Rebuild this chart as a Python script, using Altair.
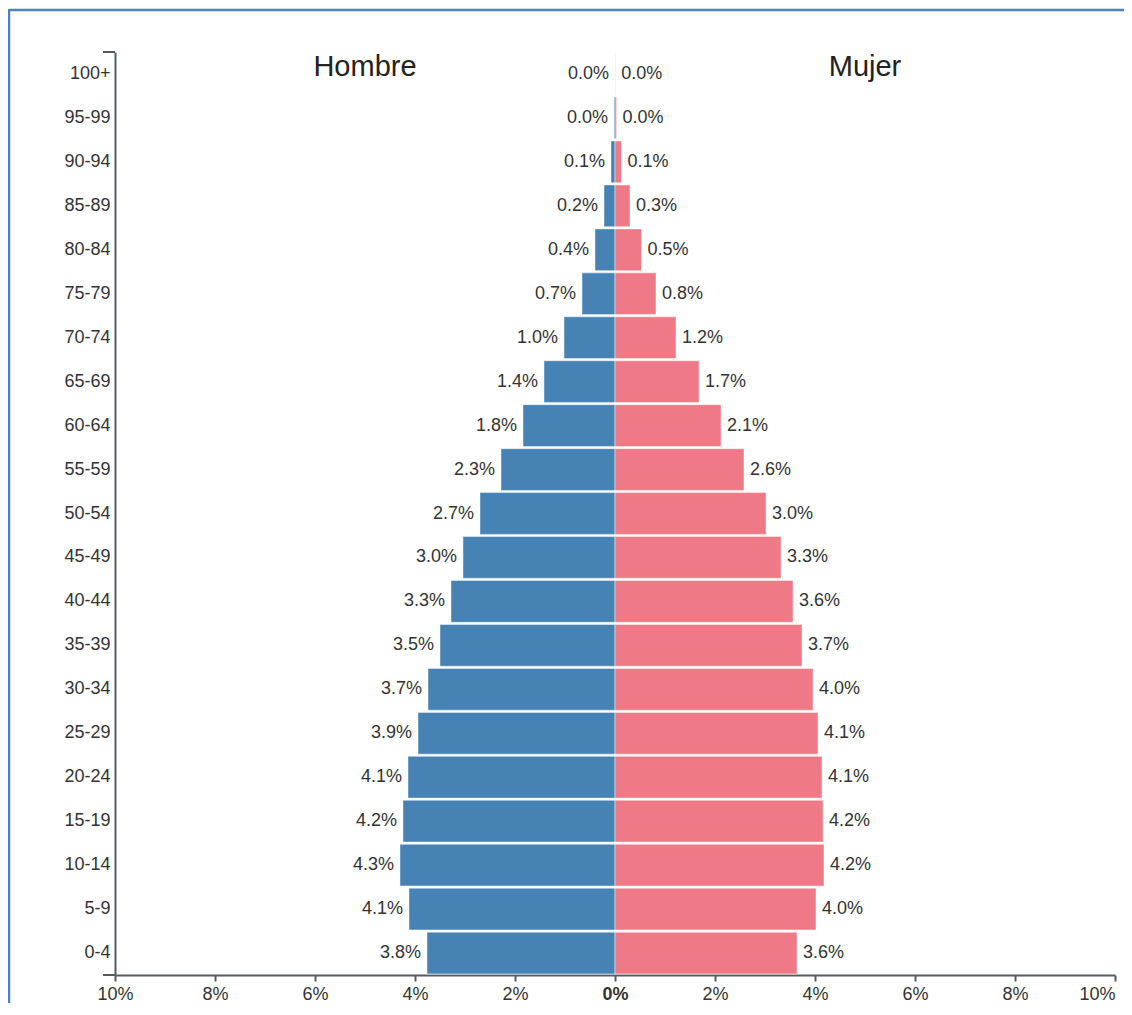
import altair as alt
import pandas as pd

# ---- data ----
ages = ["100+", "95-99", "90-94", "85-89", "80-84", "75-79", "70-74", "65-69",
        "60-64", "55-59", "50-54", "45-49", "40-44", "35-39", "30-34", "25-29",
        "20-24", "15-19", "10-14", "5-9", "0-4"]
men = [0.0, 0.02, 0.08, 0.22, 0.40, 0.66, 1.02, 1.42, 1.84, 2.28, 2.70, 3.04,
       3.28, 3.50, 3.74, 3.94, 4.14, 4.24, 4.30, 4.12, 3.76]
women = [0.004, 0.03, 0.13, 0.30, 0.53, 0.82, 1.22, 1.68, 2.12, 2.58, 3.02, 3.32,
         3.56, 3.74, 3.96, 4.06, 4.14, 4.16, 4.18, 4.02, 3.64]
x_ticks = [-10, -8, -6, -4, -2, 0, 2, 4, 6, 8, 10]
titles = ["Hombre", "Mujer"]
title_x = [-5, 5]

men_df = pd.DataFrame({"age": ages, "value": [-v for v in men],
                       "label": [f"{v:.1f}%" for v in men]})
women_df = pd.DataFrame({"age": ages, "value": women,
                         "label": [f"{v:.1f}%" for v in women]})
title_df = pd.DataFrame({"age": [ages[0]] * 2, "value": title_x, "label": titles})
one = pd.DataFrame({"k": [0]})

W, H = 1000, 923
FONT = "Liberation Sans"
AX = "#555a63"
TXT = "#333333"

yenc = alt.Y("age:N", sort=ages, title=None,
             scale=alt.Scale(paddingInner=0.05, paddingOuter=0.025),
             axis=alt.Axis(ticks=False, labelPadding=5, domainColor=AX, domainWidth=2,
                           labelFont=FONT, labelFontSize=18, labelColor=TXT))
xscale = alt.Scale(domain=[-10, 10], nice=False)
xenc = alt.X("value:Q", scale=xscale, stack=None, title=None,
             axis=alt.Axis(values=x_ticks, labelExpr="abs(datum.value) + '%'",
                           grid=False, tickSize=6, tickWidth=2, tickColor=AX,
                           domainColor=AX, domainWidth=2, labelPadding=4,
                           labelFlush=False, labelOverlap=False, labelBound=False,
                           labelAlign={"condition": {"test": "datum.value === 10", "value": "right"},
                                       "value": "center"},
                           labelFont=FONT, labelFontSize=18, labelColor=TXT,
                           labelFontWeight={"condition": {"test": "datum.value === 0", "value": "bold"},
                                            "value": "normal"}))

bars_m = alt.Chart(men_df).mark_bar(color="#4682b4", stroke="white", strokeOpacity=0.45,
                                    strokeWidth=1).encode(x=xenc, y=yenc)
bars_w = alt.Chart(women_df).mark_bar(color="#ef7986", stroke="white", strokeOpacity=0.45,
                                      strokeWidth=1).encode(x=alt.X("value:Q", scale=xscale, stack=None),
                                                            y=alt.Y("age:N", sort=ages))
lab_m = alt.Chart(men_df).mark_text(align="right", baseline="middle", dx=-6, font=FONT,
                                    fontSize=18, color=TXT).encode(
    x=alt.X("value:Q", scale=xscale), y=alt.Y("age:N", sort=ages), text="label:N")
lab_w = alt.Chart(women_df).mark_text(align="left", baseline="middle", dx=6, font=FONT,
                                      fontSize=18, color=TXT).encode(
    x=alt.X("value:Q", scale=xscale), y=alt.Y("age:N", sort=ages), text="label:N")
ttl = alt.Chart(title_df).mark_text(align="center", baseline="alphabetic", dy=2, font=FONT,
                                    fontSize=29, color="#222222").encode(
    x=alt.X("value:Q", scale=xscale), y=alt.Y("age:N", sort=ages), text="label:N")

# decorations: axis outer ticks and page frame
outer_top = alt.Chart(one).mark_rule(color=AX, strokeWidth=2).encode(
    x=alt.value(-12), x2=alt.value(0), y=alt.value(0))
outer_bot = alt.Chart(one).mark_rule(color=AX, strokeWidth=2).encode(
    x=alt.value(-12), x2=alt.value(0), y=alt.value(H))
frame_top = alt.Chart(one).mark_rule(color="#4f81bd", strokeWidth=2.5).encode(
    x=alt.value(-106), x2=alt.value(W + 20), y=alt.value(-42))
frame_left = alt.Chart(one).mark_rule(color="#4f81bd", strokeWidth=2.5).encode(
    x=alt.value(-106), y=alt.value(-43), y2=alt.value(H + 40))

chart = alt.layer(bars_m, bars_w, lab_m, lab_w, ttl, outer_top, outer_bot,
                  frame_top, frame_left).properties(
    width=W, height=H,
    autosize=alt.AutoSizeParams(type="none"),
    padding={"left": 107, "top": 44, "right": 9, "bottom": 28},
).configure_view(stroke=None)

chart.save("out.html", embed_options={"renderer": "svg", "actions": False})
